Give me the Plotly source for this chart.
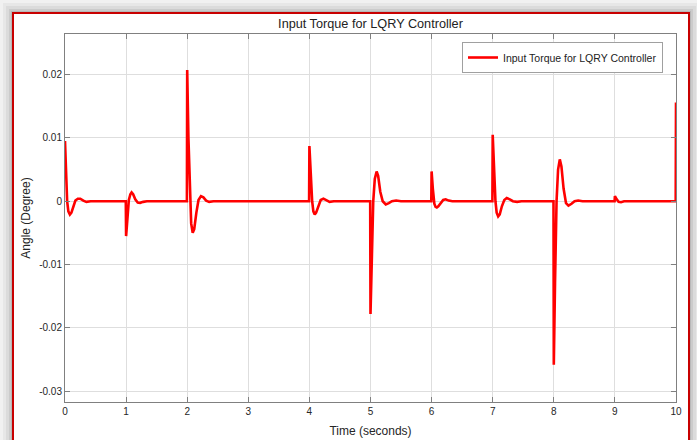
import plotly.graph_objects as go

# ---- data ----
time_s = [
    0.000, 0.015, 0.035, 0.055, 0.080, 0.105, 0.135, 0.170, 0.210, 0.250, 0.300, 0.350, 0.420, 0.995,
    1.000, 1.020, 1.045, 1.070, 1.090, 1.115, 1.150, 1.190, 1.230, 1.280, 1.340, 1.995,
    2.000, 2.020, 2.045, 2.065, 2.090, 2.115, 2.150, 2.185, 2.225, 2.265, 2.310, 2.360, 2.430, 3.995,
    4.000, 4.020, 4.045, 4.065, 4.087, 4.110, 4.145, 4.185, 4.230, 4.280, 4.330, 4.400, 4.995,
    5.000, 5.020, 5.045, 5.070, 5.100, 5.125, 5.160, 5.200, 5.250, 5.300, 5.350, 5.420, 5.500, 5.995,
    6.000, 6.020, 6.045, 6.065, 6.085, 6.110, 6.150, 6.190, 6.230, 6.280, 6.340, 6.995,
    7.000, 7.020, 7.045, 7.065, 7.090, 7.115, 7.150, 7.190, 7.230, 7.280, 7.330, 7.400, 7.470, 7.995,
    8.000, 8.020, 8.045, 8.070, 8.098, 8.125, 8.160, 8.200, 8.240, 8.290, 8.340, 8.400, 8.470, 8.995,
    9.000, 9.030, 9.060, 9.100, 9.150, 9.995,
    10.000,
]
torque = [
    0.0095, 0.0045, 0.0000, -0.0016, -0.0021, -0.0018, -0.0008, 0.0001, 0.0004, 0.0004, 0.0001, -0.0001, 0.0000, 0.0000,
    -0.0055, -0.0030, 0.0002, 0.0011, 0.0014, 0.0011, 0.0003, -0.0002, -0.00025, -0.0001, 0.0000, 0.0000,
    0.0207, 0.0100, 0.0000, -0.0035, -0.0050, -0.0044, -0.0018, 0.0002, 0.0008, 0.0006, 0.0001, -0.0001, 0.0000, 0.0000,
    0.0087, 0.0040, 0.0000, -0.0016, -0.0021, -0.0018, -0.0007, 0.0002, 0.0004, 0.0002, -0.0001, 0.0000, 0.0000,
    -0.0178, -0.0090, 0.0000, 0.0035, 0.0047, 0.0040, 0.0015, 0.0000, -0.0005, -0.0003, 0.0000, 0.0001, 0.0000, 0.0000,
    0.0047, 0.0020, -0.0004, -0.0009, -0.0010, -0.0008, -0.0002, 0.0002, 0.0003, 0.0001, 0.0000, 0.0000,
    0.0105, 0.0050, 0.0000, -0.0018, -0.0024, -0.0021, -0.0008, 0.0002, 0.0005, 0.0003, 0.0000, -0.0001, 0.0000, 0.0000,
    -0.0258, -0.0130, 0.0000, 0.0050, 0.0066, 0.0055, 0.0020, -0.0003, -0.0007, -0.0004, 0.0000, 0.0001, 0.0000, 0.0000,
    0.0008, 0.0003, -0.0001, -0.00015, 0.0000, 0.0000,
    0.0156,
]
x_ticks = [0, 1, 2, 3, 4, 5, 6, 7, 8, 9, 10]
x_tick_labels = ["0", "1", "2", "3", "4", "5", "6", "7", "8", "9", "10"]
y_ticks = [-0.03, -0.02, -0.01, 0, 0.01, 0.02]
y_tick_labels = ["-0.03", "-0.02", "-0.01", "0", "0.01", "0.02"]

W, H = 697, 440
L, R, T, B = 65, 21, 34, 38
PW, PH = W - L - R, H - T - B
FONT = "Liberation Sans, Arial, sans-serif"


def px_x(p):
    return (p - L) / PW


def px_y(p):
    return (H - B - p) / PH


fig = go.Figure()
fig.add_trace(go.Scatter(
    x=time_s, y=torque, mode="lines",
    line=dict(color="#ff0000", width=2.6),
    name="Input Torque for LQRY Controller",
))

shapes = []
# soft shadow around the frame
for d, op in [(10, 0.06), (7, 0.08), (4, 0.12), (2, 0.16)]:
    shapes.append(dict(type="rect", xref="paper", yref="paper", layer="below",
                       x0=px_x(13 - d), x1=px_x(689 + d), y0=px_y(460), y1=px_y(13 - d),
                       fillcolor="rgba(90,90,90,%.2f)" % op, line=dict(width=0)))
# white frame with red border
shapes.append(dict(type="rect", xref="paper", yref="paper", layer="below",
                   x0=px_x(13), x1=px_x(689), y0=px_y(460), y1=px_y(13),
                   fillcolor="white", line=dict(color="#c80000", width=2)))

axis_common = dict(
    showgrid=True, gridcolor="#dedede", gridwidth=1,
    zeroline=False, showline=True, linecolor="#808080", linewidth=1,
    mirror="ticks", ticks="inside", ticklen=5, tickcolor="#808080",
    tickfont=dict(family=FONT, size=10, color="#262626"),
    automargin=False,
)

fig.update_layout(
    width=W, height=H,
    margin=dict(l=L, r=R, t=T, b=B, autoexpand=False),
    paper_bgcolor="#f1f1f1",
    plot_bgcolor="white",
    shapes=shapes,
    title=dict(text="Input Torque for LQRY Controller", x=(L + PW / 2) / W, xanchor="center",
               y=1 - 24 / H, yanchor="middle",
               font=dict(family=FONT, size=12.7, color="#222222")),
    xaxis=dict(range=[0, 10], tickvals=x_ticks, ticktext=x_tick_labels,
               title=dict(text="Time (seconds)", standoff=10,
                          font=dict(family=FONT, size=12, color="#262626")),
               **axis_common),
    yaxis=dict(range=[-0.0317, 0.0264], tickvals=y_ticks, ticktext=y_tick_labels,
               title=dict(text="Angle (Degree)", standoff=6,
                          font=dict(family=FONT, size=12, color="#262626")),
               **axis_common),
    showlegend=True,
    legend=dict(x=px_x(663), y=px_y(42), xanchor="right", yanchor="top",
                bgcolor="white", bordercolor="#a0a0a0", borderwidth=1,
                font=dict(family=FONT, size=10.5, color="#222222"),
                itemwidth=30, tracegroupgap=0),
)

fig.write_html("out.html", config={"displayModeBar": False},
               post_script="document.body.style.margin='0';")
